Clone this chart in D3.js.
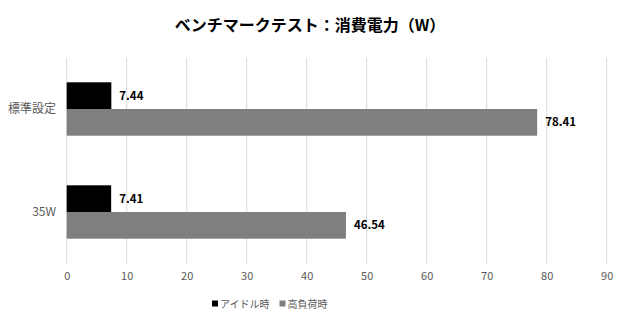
<!DOCTYPE html>
<html>
  <head>
    <meta charset="utf-8" />
    <script src="https://d3js.org/d3.v7.min.js"></script>
    <style>
      body { margin: 0; background: #fff; }
      text { font-family: "Noto Sans CJK JP", "Noto Sans", sans-serif; }
    </style>
  </head>
  <body>
    <svg id="chart"></svg>
    <script>
      // data
      var categories = ["標準設定", "35W"];
      var seriesNames = ["アイドル時", "高負荷時"];
      var idle = [7.44, 7.41];
      var load = [78.41, 46.54];
      var ticks = [0, 10, 20, 30, 40, 50, 60, 70, 80, 90];
      var colors = ["#000000", "#7f7f7f"];

      var width = 620, height = 320;
      var svg = d3.select("#chart").attr("width", width).attr("height", height);

      // scales
      var x = d3.scaleLinear().domain([0, 90]).range([66.7, 606.7]);
      var y = d3.scaleBand().domain(categories).range([57.5, 263.5]);
      var inner = d3.scaleBand().domain(seriesNames).range([0, 53.4]);
      var groupOffset = (y.bandwidth() - 53.4) / 2;

      // gridlines
      svg.append("g")
        .selectAll("line")
        .data(ticks)
        .enter()
        .append("line")
        .attr("x1", function (d) { return x(d); })
        .attr("x2", function (d) { return x(d); })
        .attr("y1", 57.5)
        .attr("y2", 263.5)
        .attr("stroke", "#d9d9d9")
        .attr("stroke-width", 1);

      // x axis labels
      var xAxis = svg.append("g")
        .attr("transform", "translate(0,263.5)")
        .call(d3.axisBottom(x).tickValues(ticks).tickSize(0).tickPadding(9));
      xAxis.select(".domain").remove();
      xAxis.selectAll("text")
        .attr("font-size", "11px")
        .attr("fill", "#595959")
        .style("font-family", "'Noto Sans CJK JP', sans-serif");

      // category labels
      svg.append("g")
        .selectAll("text")
        .data(categories)
        .enter()
        .append("text")
        .attr("x", 56)
        .attr("y", function (d) { return y(d) + y.bandwidth() / 2; })
        .attr("dy", "0.35em")
        .attr("text-anchor", "end")
        .attr("font-size", "12px")
        .attr("fill", "#595959")
        .text(function (d) { return d; });

      var rows = [];
      categories.forEach(function (c, i) {
        rows.push({ cat: c, s: 0, v: idle[i] });
        rows.push({ cat: c, s: 1, v: load[i] });
      });

      // bars
      svg.append("g")
        .selectAll("rect")
        .data(rows)
        .enter()
        .append("rect")
        .attr("x", x(0))
        .attr("y", function (d) { return y(d.cat) + groupOffset + inner(seriesNames[d.s]); })
        .attr("width", function (d) { return x(d.v) - x(0); })
        .attr("height", inner.bandwidth())
        .attr("fill", function (d) { return colors[d.s]; });

      // value labels
      svg.append("g")
        .selectAll("text")
        .data(rows)
        .enter()
        .append("text")
        .attr("x", function (d) { return x(d.v) + 8; })
        .attr("y", function (d) { return y(d.cat) + groupOffset + inner(seriesNames[d.s]) + inner.bandwidth() / 2; })
        .attr("dy", "0.35em")
        .attr("font-size", "11.5px")
        .attr("font-weight", "bold")
        .attr("fill", "#000")
        .text(function (d) { return d.v.toFixed(2); });

      // title
      svg.append("text")
        .attr("x", 310)
        .attr("y", 25)
        .attr("dy", "0.35em")
        .attr("text-anchor", "middle")
        .attr("font-size", "16px")
        .attr("font-weight", "bold")
        .attr("fill", "#000")
        .text("ベンチマークテスト：消費電力（W）");

      // legend
      var legend = svg.append("g");
      var lx = 212;
      seriesNames.forEach(function (name, i) {
        var item = legend.append("g").attr("transform", "translate(" + lx + ",304)");
        item.append("rect")
          .attr("x", 0)
          .attr("y", -3.5)
          .attr("width", 6)
          .attr("height", 6)
          .attr("fill", colors[i]);
        var t = item.append("text")
          .attr("x", 8)
          .attr("y", 0)
          .attr("dy", "0.35em")
          .attr("font-size", "10px")
          .attr("fill", "#595959")
          .text(name);
        lx += 8 + t.node().getComputedTextLength() + 10;
      });
    </script>
  </body>
</html>
